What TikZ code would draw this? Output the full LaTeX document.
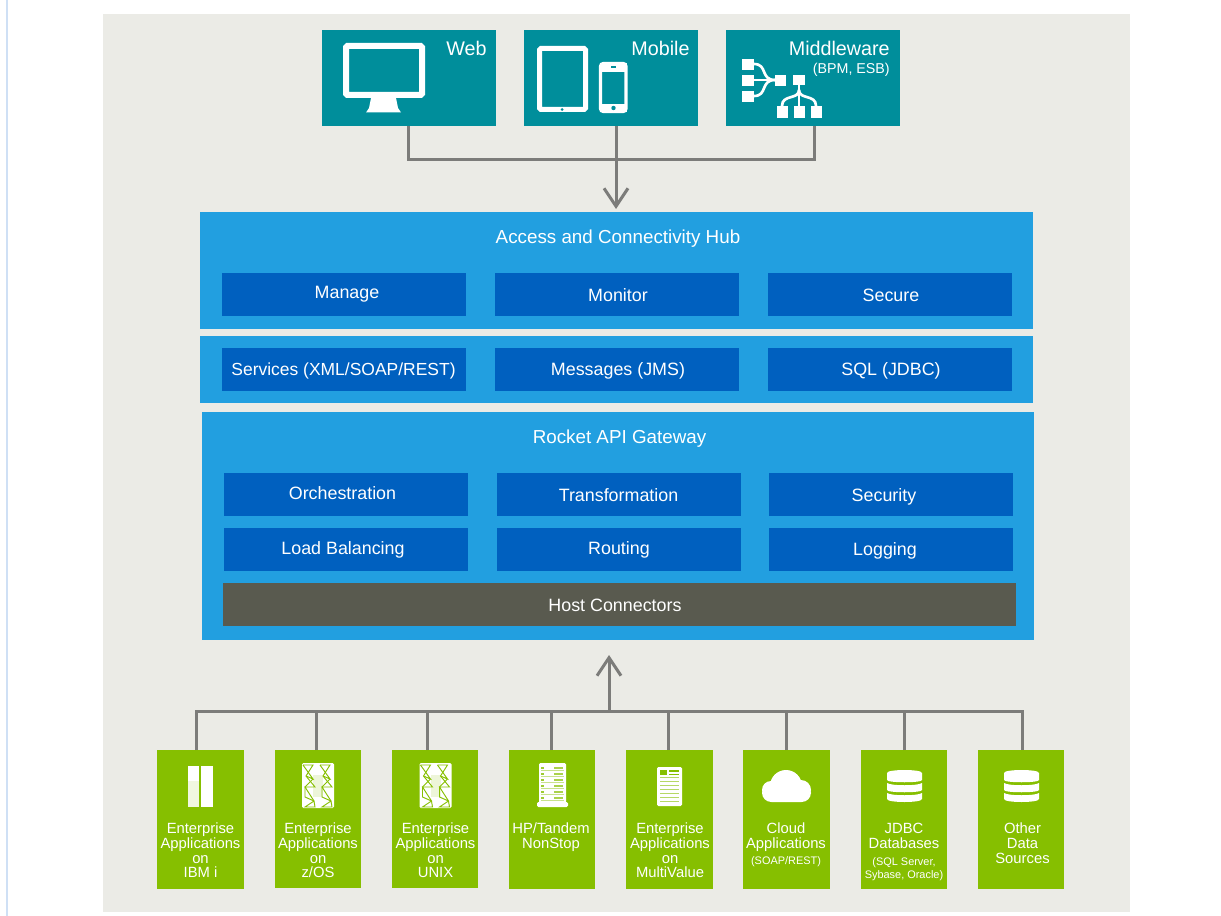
\documentclass[tikz,border=0pt]{standalone}
\usepackage{fontspec}
\setmainfont{Liberation Sans}
\usetikzlibrary{arrows.meta,calc}
\definecolor{bgc}{HTML}{EBEBE6}
\definecolor{teal1}{HTML}{008E9B}
\definecolor{blue1}{HTML}{229FE0}
\definecolor{blue2}{HTML}{0060BF}
\definecolor{green1}{HTML}{86BF00}
\definecolor{host}{HTML}{595A4F}
\definecolor{conn}{HTML}{7C7C7A}
\definecolor{edge}{HTML}{CFE0F5}
\tikzset{
  pxbox/.style={inner sep=0,outer sep=0,draw=none},
  tealbox/.style={pxbox,fill=teal1},
  panel/.style={pxbox,fill=blue1},
  inner/.style={pxbox,fill=blue2},
  hostbox/.style={pxbox,fill=host},
  greenbox/.style={pxbox,fill=green1},
  lbl/.style={text=white,inner sep=0,anchor=base,font=\fontsize{13.4}{16}\selectfont},
  titlelbl/.style={lbl,font=\fontsize{14.1}{16}\selectfont},
  toplbl/.style={text=white,inner sep=0,font=\fontsize{14.8}{16}\selectfont},
  sublbl/.style={text=white,inner sep=0,anchor=base east,font=\fontsize{10.7}{12}\selectfont},
  srclbl/.style={text=white,inner sep=0,anchor=north,align=center,font=\fontsize{11.1}{10.9}\selectfont},
  conline/.style={draw=conn,line width=2.25pt},
  conarrow/.style={conline,-{Straight Barb[length=13.5pt,width=18pt,line width=2.25pt]}},
  ic/.style={fill=white,draw=none},
  icl/.style={draw=white,fill=none},
  mwline/.style={draw=white,line width=2pt},
  zig/.style={draw=green1,line width=.7pt,fill=none},
}
\newcommand{\pbox}[6]{\node[#6,minimum width={(#4-#2)*0.75pt},minimum height={(#5-#3)*0.75pt}] (#1) at ({(#2+#4)/2},{(#3+#5)/2}) {};}
\newcommand{\ptext}[5]{\node[#1] (#2) at (#3,#4) {#5};}
\newcommand{\zicon}[2]{\begin{scope}[shift={(#1,#2)}]
  \fill[white,rounded corners=1pt] (0,0) rectangle (32,45);
  \fill[white!85!green1] (11,12) rectangle (21,34);
  \draw[zig] (1,2)--(11,2)--(4,13)--(13,24)--(3,24)--(12,38)--(3,44)--(13,44)--(12,38);
  \draw[zig] (1,2)--(11,16)--(4,13)  (11,16)--(3,24)  (3,24)--(3,34)--(12,38);
  \draw[zig] (18,2)--(28,2)--(21,13)--(30,24)--(20,24)--(29,38)--(20,44)--(30,44)--(29,38);
  \draw[zig] (18,2)--(28,16)--(21,13)  (28,16)--(20,24)  (20,24)--(20,34)--(29,38);
\end{scope}}
\newcommand{\dbicon}[2]{\begin{scope}[shift={(#1,#2)}]
  \fill[white] (0,3) .. controls (0,-1) and (35,-1) .. (35,3) -- (35,10) .. controls (35,13) and (0,13) .. (0,10) -- cycle;
  \fill[white] (0,13) .. controls (4,16) and (31,16) .. (35,13) -- (35,20) .. controls (35,23) and (0,23) .. (0,20) -- cycle;
  \fill[white] (0,23) .. controls (4,26) and (31,26) .. (35,23) -- (35,29) .. controls (35,33) and (0,33) .. (0,29) -- cycle;
\end{scope}}
\begin{document}
\begin{tikzpicture}[x=0.75pt,y=-0.75pt]
\useasboundingbox (0,0) rectangle (1221,916);
\fill[white] (0,0) rectangle (1221,916);
\fill[edge] (6,0) rectangle (8,916);
\fill[bgc] (103,14) rectangle (1130,912);

% top tier
\pbox{web}{322}{30}{496}{126}{tealbox}
\pbox{mobile}{524}{30}{698}{126}{tealbox}
\pbox{mw}{726}{30}{900}{126}{tealbox}
\ptext{toplbl,anchor=base}{tweb}{466.5}{56}{Web}
\ptext{toplbl,anchor=base}{tmobile}{660.5}{56}{Mobile}
\ptext{toplbl,anchor=base east}{tmw}{890}{56}{Middleware}
\ptext{sublbl}{tmw2}{890}{74}{(BPM, ESB)}

% web icon
\draw[icl,line width=4.5pt,rounded corners=1pt] (346,46) rectangle (422,95);
\fill[ic] (371,98) -- (396,98) -- (398,108) -- (401,112.5) -- (366,112.5) -- (369,108) -- cycle;
% mobile icons
\draw[icl,line width=3.75pt,rounded corners=1pt] (539.5,48.5) rectangle (585.5,109.5);
\fill[teal1] (562,109.5) circle (1.5);
\draw[icl,line width=2.3pt,rounded corners=2pt] (600.5,63.5) rectangle (626,111.5);
\fill[ic] (600,63) rectangle (627,72);
\fill[ic] (600,104) rectangle (627,112);
\fill[teal1] (613.5,108) circle (2.2);
\fill[teal1] (611,66.3) rectangle (616,68);
% middleware icon
\fill[ic] (742,59) rectangle (754,70);
\fill[ic] (742,75) rectangle (754,86);
\fill[ic] (742,91) rectangle (754,102);
\fill[ic] (775,75) rectangle (786,86);
\fill[ic] (793,75) rectangle (805,85);
\fill[ic] (777,106) rectangle (788,118);
\fill[ic] (794,106) rectangle (805,118);
\fill[ic] (811,106) rectangle (822,118);
\draw[mwline] (754,64) .. controls (768,64) and (760,80) .. (775,80);
\draw[mwline] (754,80) -- (775,80);
\draw[mwline] (754,96) .. controls (768,96) and (760,80) .. (775,80);
\draw[mwline] (799,85) -- (799,106);
\draw[mwline] (799,90) .. controls (799,100) and (782,94) .. (782,106);
\draw[mwline] (799,90) .. controls (799,100) and (816,94) .. (816,106);

% top connector
\coordinate (jweb) at (408,160);
\coordinate (jmob) at (616,160);
\coordinate (jmw) at (814,160);

% hub panels
\pbox{hub}{200}{212}{1033}{329}{panel}
\pbox{mid}{200}{336}{1033}{403}{panel}
\pbox{gw}{202}{412}{1034}{640}{panel}
\draw[conline] (web.south -| jweb) -- (jweb) -- (jmw) -- (mw.south -| jmw);
\draw[conarrow] (mobile.south -| jmob) -- ($(hub.north -| jmob)+(0,-3)$);

\ptext{titlelbl}{thub}{618}{244}{Access and Connectivity Hub}
\pbox{manage}{222}{273}{466}{316}{inner}
\pbox{monitor}{495}{273}{739}{316}{inner}
\pbox{secure}{768}{273}{1012}{316}{inner}
\ptext{lbl}{tmanage}{347}{299}{Manage}
\ptext{lbl}{tmonitor}{618}{301}{Monitor}
\ptext{lbl}{tsecure}{891}{301}{Secure}

\pbox{services}{222}{348}{466}{391}{inner}
\pbox{messages}{495}{348}{739}{391}{inner}
\pbox{sql}{768}{348}{1012}{391}{inner}
\ptext{lbl,font=\fontsize{13.1}{16}\selectfont}{tservices}{343.5}{375}{Services (XML/SOAP/REST)}
\ptext{lbl}{tmessages}{618}{375}{Messages (JMS)}
\ptext{lbl}{tsql}{891}{375}{SQL (JDBC)}

\ptext{titlelbl}{tgw}{619.5}{443}{Rocket API Gateway}
\pbox{orch}{224}{473}{468}{516}{inner}
\pbox{trans}{497}{473}{741}{516}{inner}
\pbox{secur}{769}{473}{1013}{516}{inner}
\ptext{lbl}{torch}{342.5}{499}{Orchestration}
\ptext{lbl}{ttrans}{618.5}{501}{Transformation}
\ptext{lbl}{tsecur}{884}{501}{Security}
\pbox{load}{224}{528}{468}{571}{inner}
\pbox{routing}{497}{528}{741}{571}{inner}
\pbox{logging}{769}{528}{1013}{571}{inner}
\ptext{lbl}{tload}{343}{554}{Load Balancing}
\ptext{lbl}{trouting}{619}{554}{Routing}
\ptext{lbl}{tlogging}{885}{555}{Logging}
\pbox{hostc}{223}{583}{1016}{626}{hostbox}
\ptext{lbl}{thost}{615}{611}{Host Connectors}

% source boxes
\pbox{s1}{157}{750}{244}{889}{greenbox}
\pbox{s2}{275}{750}{361}{888}{greenbox}
\pbox{s3}{392}{750}{478}{888}{greenbox}
\pbox{s4}{509}{750}{595}{889}{greenbox}
\pbox{s5}{626}{750}{713}{889}{greenbox}
\pbox{s6}{743}{750}{830}{889}{greenbox}
\pbox{s7}{861}{750}{947}{889}{greenbox}
\pbox{s8}{978}{750}{1064}{889}{greenbox}
\ptext{srclbl}{t1}{200.5}{823}{Enterprise\\Applications\\on\\IBM i}
\ptext{srclbl}{t2}{318}{823}{Enterprise\\Applications\\on\\z/OS}
\ptext{srclbl}{t3}{435.5}{823}{Enterprise\\Applications\\on\\UNIX}
\ptext{srclbl}{t4}{551}{823}{HP/Tandem\\NonStop}
\ptext{srclbl}{t5}{670}{823}{Enterprise\\Applications\\on\\MultiValue}
\ptext{srclbl}{t6}{786}{823}{Cloud\\Applications}
\ptext{srclbl,font=\fontsize{8.2}{8.2}\selectfont}{t6b}{786}{856}{(SOAP/REST)}
\ptext{srclbl}{t7}{904}{823}{JDBC\\Databases}
\ptext{srclbl,font=\fontsize{8.2}{10}\selectfont}{t7b}{904}{857}{(SQL Server,\\Sybase, Oracle)}
\ptext{srclbl}{t8}{1022.5}{823}{Other\\Data\\Sources}

% bottom connectors
\coordinate (b1) at (196,711);
\coordinate (b2) at (316,711);
\coordinate (b3) at (427,711);
\coordinate (b4) at (551,711);
\coordinate (b5) at (668,711);
\coordinate (b6) at (786,711);
\coordinate (b7) at (904,711);
\coordinate (b8) at (1022,711);
\coordinate (bup) at (609,711);
\draw[conline] (s1.north -| b1) -- (b1) -- (b8) -- (s8.north -| b8);
\draw[conline] (s2.north -| b2) -- (b2);
\draw[conline] (s3.north -| b3) -- (b3);
\draw[conline] (s4.north -| b4) -- (b4);
\draw[conline] (s5.north -| b5) -- (b5);
\draw[conline] (s6.north -| b6) -- (b6);
\draw[conline] (s7.north -| b7) -- (b7);
\draw[conarrow] (bup) -- ($(gw.south -| bup)+(0,15)$);

% source icons
\fill[white] (188,766) rectangle (199,807);
\fill[white] (201,766) rectangle (213,807);
\fill[white!88!green1] (188,781) rectangle (199,807);
\zicon{302}{763}
\zicon{419.5}{763}
% server
\fill[white,rounded corners=1pt] (539,763) rectangle (566,803);
\fill[white,rounded corners=1pt] (537,802) rectangle (568,807);
\foreach \yy in {766,772,778,784,790,796} {
  \draw[green1!45!white,line width=.4pt] (541,\yy+4.5) -- (564,\yy+4.5);
  \fill[green1!80!white] (541,\yy+1) rectangle (544,\yy+2.5);
  \fill[green1!70!white] (554,\yy+1) rectangle (563,\yy+2.5);
}
% document
\fill[white,rounded corners=1pt] (657,767) rectangle (682,806);
\fill[green1] (660,770) rectangle (667,775);
\fill[green1] (669,770) rectangle (679,772);
\fill[green1] (669,773.5) rectangle (679,775);
\foreach \yy in {777,781,785,789,793,797,801} {
  \fill[green1!60!white] (660,\yy) rectangle (679,\yy+1.4);
}
% cloud
\fill[white,rounded corners=7pt] (762,784) rectangle (811,802);
\fill[white] (786,786) circle (16);
\fill[white] (771,790) circle (9);
\fill[white] (801,790) circle (10);
\dbicon{887}{770}
\dbicon{1004}{770}
\end{tikzpicture}
\end{document}
